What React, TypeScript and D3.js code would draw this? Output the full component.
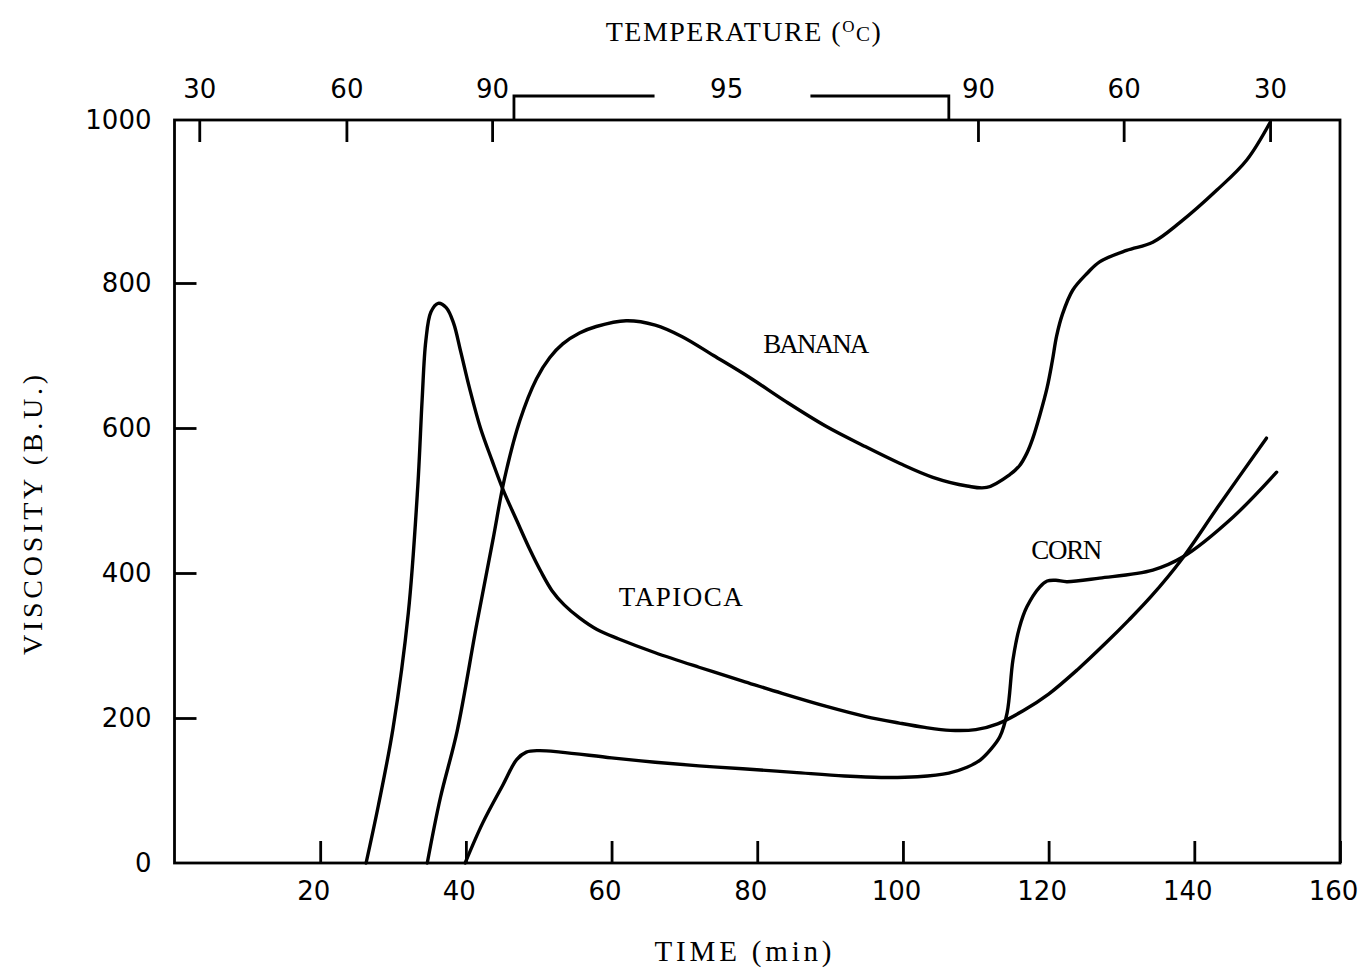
import { useRef, useEffect } from "react"
import * as d3 from "d3"

// time (min) / viscosity (B.U.)
const tapiocaTime = [26.3, 28, 30, 32.1, 33.4, 34.0, 34.5, 35.2, 36.2, 37.3, 38.3, 39.3, 40.5, 42, 43.6, 45.1, 47, 48.8, 50.3, 51.8, 53.5, 55.6, 58, 61, 66, 72, 78, 83.4, 89.5, 94.9, 99.5, 103, 106.5, 110, 113, 116.5, 120, 124, 127.8, 131, 134.1, 138.2, 143.3, 149.9]
const tapiocaVisc = [0, 80, 186, 345, 520, 640, 720, 760, 772, 766, 745, 705, 655, 600, 555, 515, 472, 432, 402, 376, 356, 338, 322, 309, 290, 270, 251, 234, 216, 202, 193, 187, 183, 184, 192, 210, 233, 267, 303, 335, 368, 418, 492, 586]

const bananaTime = [34.7, 36.5, 38.8, 41.5, 43.7, 45.3, 47.4, 49.7, 51.5, 53.3, 55.6, 57.9, 62, 66, 69.7, 74, 78.9, 84, 89.5, 94.5, 99.6, 104.1, 108.8, 111.5, 114.7, 116, 117, 117.8, 118.8, 119.8, 120.5, 121.1, 121.9, 123.3, 125.3, 127, 130.7, 134.3, 138, 143.1, 147.2, 150.4]
const bananaVisc = [0, 90, 182, 330, 445, 530, 610, 668, 697, 716, 731, 740, 748, 742, 726, 700, 670, 636, 602, 576, 551, 532, 520, 518, 536, 548, 565, 585, 618, 656, 692, 727, 757, 790, 812, 826, 840, 850, 874, 914, 951, 997]

const cornTime = [39.9, 42.3, 45.1, 47, 48.3, 50, 53, 60, 66, 72, 78, 85, 92, 97, 102, 106.3, 108.8, 110.6, 112, 113.3, 114.3, 115.1, 116, 117, 118.8, 119.8, 121, 122.5, 127, 134.3, 138.4, 145.3, 151.3]
const cornVisc = [0, 55, 108, 143, 153, 155, 153, 145, 139, 134, 130, 125, 120, 118, 119, 124, 132, 142, 156, 174, 207, 280, 325, 353, 381, 389, 390, 388, 393, 404, 422, 477, 539]

const timeTicks = [20, 40, 60, 80, 100, 120, 140, 160]
const viscTicks = [0, 200, 400, 600, 800, 1000]

// temperature programme shown along the top
const tempTickTimes = [3.4, 23.6, 43.6, 110.3, 130.3, 150.4]
const tempTickLabels = ["30", "60", "90", "90", "60", "30"]
const holdStart = 46.6
const holdEnd = 106.3
const holdGapStart = 65.9
const holdGapEnd = 87.3
const holdLabelTime = 75.8
const holdLabel = "95"

const curveNames = ["BANANA", "TAPIOCA", "CORN"]
const curveLabelTime = [88.1, 69.5, 122.5]
const curveLabelVisc = [717, 368, 432]
const curveLabelWidth = [106, 124, 71]

const W = 1360
const H = 971

const App = () => {
  const svgRef = useRef(null)

  useEffect(() => {
    const svg = d3.select(svgRef.current)
    svg.selectAll("*").remove()

    const x = d3.scaleLinear().domain([0, 160]).range([174.5, 1340])
    // the drawing's top division is slightly stretched
    const y = d3.scaleLinear().domain([0, 800, 1000]).range([863, 283, 120])

    const tickFont = "'DejaVu Sans', sans-serif"
    const typeFont = "'Liberation Serif', 'DejaVu Serif', serif"

    svg.append("rect").attr("width", W).attr("height", H).attr("fill", "#fff")

    // bottom axis, ticks pointing inward
    const bottom = svg
      .append("g")
      .attr("transform", `translate(0,${y(0)})`)
      .call(
        d3.axisBottom(x).tickValues(timeTicks).tickSizeInner(-22).tickSizeOuter(0).tickPadding(19)
      )
    bottom.selectAll("text").attr("dx", -7)
    const left = svg
      .append("g")
      .attr("transform", `translate(${x(0)},0)`)
      .call(
        d3
          .axisLeft(y)
          .tickValues(viscTicks)
          .tickFormat(d3.format("d"))
          .tickSizeInner(-22)
          .tickSizeOuter(0)
          .tickPadding(23)
      )
    const top = svg
      .append("g")
      .attr("transform", `translate(0,${y(1000)})`)
      .call(
        d3
          .axisTop(x)
          .tickValues(tempTickTimes)
          .tickFormat((d, i) => tempTickLabels[i])
          .tickSizeInner(-22)
          .tickSizeOuter(0)
          .tickPadding(22)
      )

    ;[bottom, left, top].forEach((g) => {
      g.select(".domain").remove()
      g.selectAll("line").attr("stroke", "#000").attr("stroke-width", 2.8)
      g.selectAll("text")
        .attr("fill", "#000")
        .style("font-family", tickFont)
        .style("font-size", "26px")
    })
    left.selectAll(".tick").filter((d) => d === 0 || d === 1000).select("line").remove()

    // frame
    svg
      .append("rect")
      .attr("x", x(0))
      .attr("y", y(1000))
      .attr("width", x(160) - x(0))
      .attr("height", y(0) - y(1000))
      .attr("fill", "none")
      .attr("stroke", "#000")
      .attr("stroke-width", 2.8)

    // 95 °C hold bracket
    const yb = y(1000) - 24
    svg
      .append("path")
      .attr(
        "d",
        `M${x(holdStart)},${y(1000)}V${yb}H${x(holdGapStart)}M${x(holdGapEnd)},${yb}H${x(holdEnd)}V${y(1000)}`
      )
      .attr("fill", "none")
      .attr("stroke", "#000")
      .attr("stroke-width", 2.8)
    svg
      .append("text")
      .attr("x", x(holdLabelTime))
      .attr("y", y(1000) - 22)
      .attr("text-anchor", "middle")
      .style("font-family", tickFont)
      .style("font-size", "26px")
      .text(holdLabel)

    // curves
    const line = d3
      .line()
      .x((d) => x(d[0]))
      .y((d) => y(d[1]))
      .curve(d3.curveCatmullRom.alpha(0.5))

    const series = [
      [bananaTime, bananaVisc],
      [tapiocaTime, tapiocaVisc],
      [cornTime, cornVisc],
    ]
    svg
      .append("g")
      .selectAll("path")
      .data(series)
      .enter()
      .append("path")
      .attr("d", (s) => line(d3.zip(s[0], s[1])))
      .attr("fill", "none")
      .attr("stroke", "#000")
      .attr("stroke-width", 3.4)
      .attr("stroke-linejoin", "round")
      .attr("stroke-linecap", "round")

    svg
      .append("g")
      .selectAll("text")
      .data(curveNames)
      .enter()
      .append("text")
      .attr("x", (d, i) => x(curveLabelTime[i]))
      .attr("y", (d, i) => y(curveLabelVisc[i]))
      .attr("dy", "0.35em")
      .attr("text-anchor", "middle")
      .attr("textLength", (d, i) => curveLabelWidth[i])
      .attr("lengthAdjust", "spacing")
      .style("font-family", typeFont)
      .style("font-size", "27px")
      .text((d) => d)

    // axis titles
    const temp = svg
      .append("text")
      .attr("x", 744)
      .attr("y", 41)
      .attr("text-anchor", "middle")
      .style("font-family", typeFont)
      .style("font-size", "28px")
      .style("letter-spacing", "1.5px")
    temp.append("tspan").text("TEMPERATURE (")
    temp.append("tspan").attr("dy", -9).style("font-size", "17px").text("O")
    temp.append("tspan").attr("dy", 9).style("font-size", "21px").text("C")
    temp.append("tspan").text(")")

    svg
      .append("text")
      .attr("x", 743)
      .attr("y", 961)
      .attr("text-anchor", "middle")
      .attr("textLength", 177)
      .attr("lengthAdjust", "spacing")
      .style("font-family", typeFont)
      .style("font-size", "29px")
      .text("TIME (min)")

    svg
      .append("text")
      .attr("transform", "translate(42,515) rotate(-90)")
      .attr("text-anchor", "middle")
      .attr("textLength", 280)
      .attr("lengthAdjust", "spacing")
      .style("font-family", typeFont)
      .style("font-size", "28px")
      .text("VISCOSITY (B.U.)")
  }, [])

  return (
    <svg
      ref={svgRef}
      width={W}
      height={H}
      style={{ position: "absolute", left: 0, top: 0 }}
    ></svg>
  )
}

export default App
